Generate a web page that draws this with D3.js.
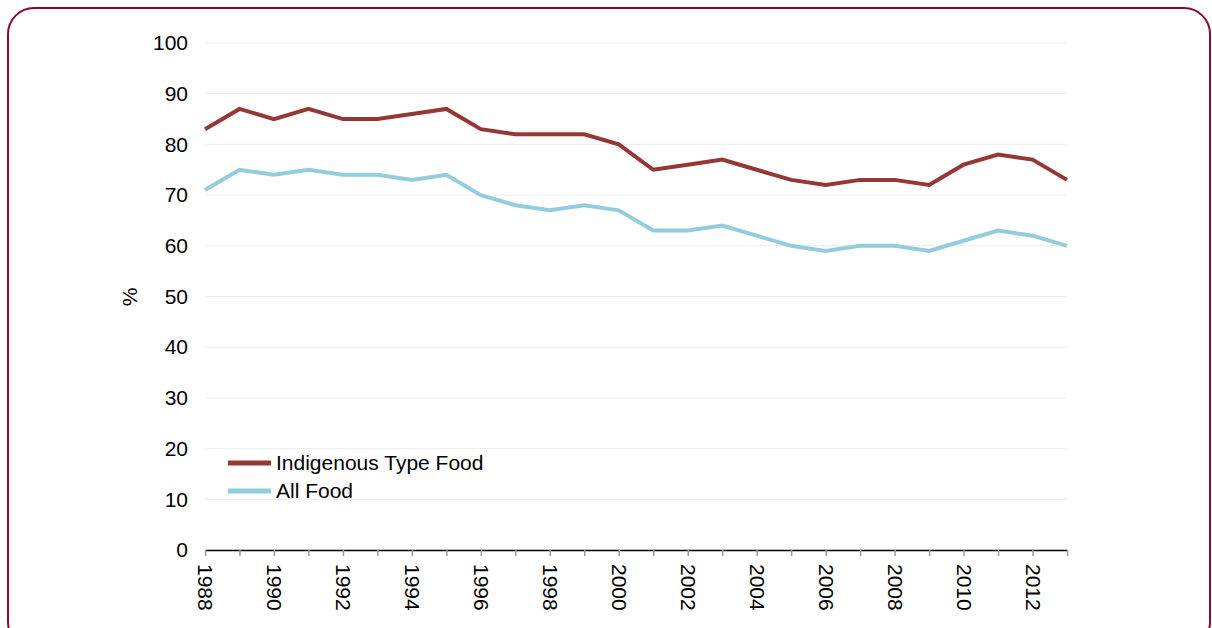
<html>
<head>
<meta charset="utf-8" />
<title>Food prices</title>
<script src="https://d3js.org/d3.v7.min.js"></script>
<style>
  body { margin: 0; background: #fff; }
  text { font-family: "Liberation Sans", Arial, sans-serif; fill: #000; }
</style>
</head>
<body>
<svg width="1212" height="628" id="svg1"></svg>
<script>
// data
var years = d3.range(1988, 2014);
var indigenous = [83, 87, 85, 87, 85, 85, 86, 87, 83, 82, 82, 82, 80, 75, 76, 77, 75, 73, 72, 73, 73, 72, 76, 78, 77, 73];
var allFood    = [71, 75, 74, 75, 74, 74, 73, 74, 70, 68, 67, 68, 67, 63, 63, 64, 62, 60, 59, 60, 60, 59, 61, 63, 62, 60];
var yTicks = [0, 10, 20, 30, 40, 50, 60, 70, 80, 90, 100];
var seriesNames = ["Indigenous Type Food", "All Food"];
var seriesColors = ["#953735", "#93cddd"];
var fs = "21px";

var svg = d3.select("#svg1");

// frame
svg.append("rect")
  .attr("x", 8).attr("y", 8)
  .attr("width", 1202).attr("height", 640)
  .attr("rx", 26).attr("ry", 26)
  .attr("fill", "none")
  .attr("stroke", "#8b0a2c")
  .attr("stroke-width", 2);

var x = d3.scaleLinear().domain([1988, 2013]).range([205, 1067]);
var y = d3.scaleLinear().domain([0, 100]).range([550, 43]);

// gridlines
svg.append("g").selectAll("line")
  .data(yTicks.slice(1))
  .enter().append("line")
  .attr("x1", x(1988)).attr("x2", x(2013))
  .attr("y1", d => y(d)).attr("y2", d => y(d))
  .attr("stroke", "#ececec").attr("stroke-width", 1);

// y axis labels
var gy = svg.append("g")
  .attr("transform", "translate(" + x(1988) + ",0)")
  .call(d3.axisLeft(y).tickValues(yTicks).tickSize(0).tickPadding(17));
gy.select(".domain").remove();
gy.selectAll("text").style("font-size", fs).style("font-family", "Liberation Sans, Arial, sans-serif");

svg.append("text")
  .attr("transform", "translate(137,297) rotate(-90)")
  .attr("text-anchor", "middle")
  .style("font-size", fs)
  .text("%");

// x axis
var gx = svg.append("g")
  .attr("transform", "translate(0," + y(0) + ")")
  .call(d3.axisBottom(x).tickValues(years).tickSize(6).tickSizeOuter(0).tickFormat(d => d % 2 === 0 ? d : ""));
gx.select(".domain").attr("stroke", "#000").attr("stroke-width", 1.5);
gx.selectAll(".tick line").attr("stroke", "#999").attr("stroke-width", 1.5);
gx.selectAll("text")
  .style("font-size", fs)
  .style("font-family", "Liberation Sans, Arial, sans-serif")
  .attr("text-anchor", "start")
  .attr("dy", "0.35em")
  .attr("y", 0)
  .attr("transform", "translate(0,14) rotate(90)");

// lines
var line = d3.line()
  .x((d, i) => x(years[i]))
  .y(d => y(d));

[indigenous, allFood].forEach(function(vals, k) {
  svg.append("path")
    .datum(vals)
    .attr("d", line)
    .attr("fill", "none")
    .attr("stroke", seriesColors[k])
    .attr("stroke-width", 4)
    .attr("stroke-linejoin", "miter");
});

// legend
var leg = svg.append("g").selectAll("g")
  .data(seriesNames)
  .enter().append("g")
  .attr("transform", (d, i) => "translate(228," + (463 + i * 28) + ")");
leg.append("line")
  .attr("x1", 0).attr("x2", 43)
  .attr("stroke", (d, i) => seriesColors[i])
  .attr("stroke-width", 5);
leg.append("text")
  .attr("x", 48).attr("dy", "0.35em")
  .style("font-size", fs)
  .text(d => d);
</script>
</body>
</html>
